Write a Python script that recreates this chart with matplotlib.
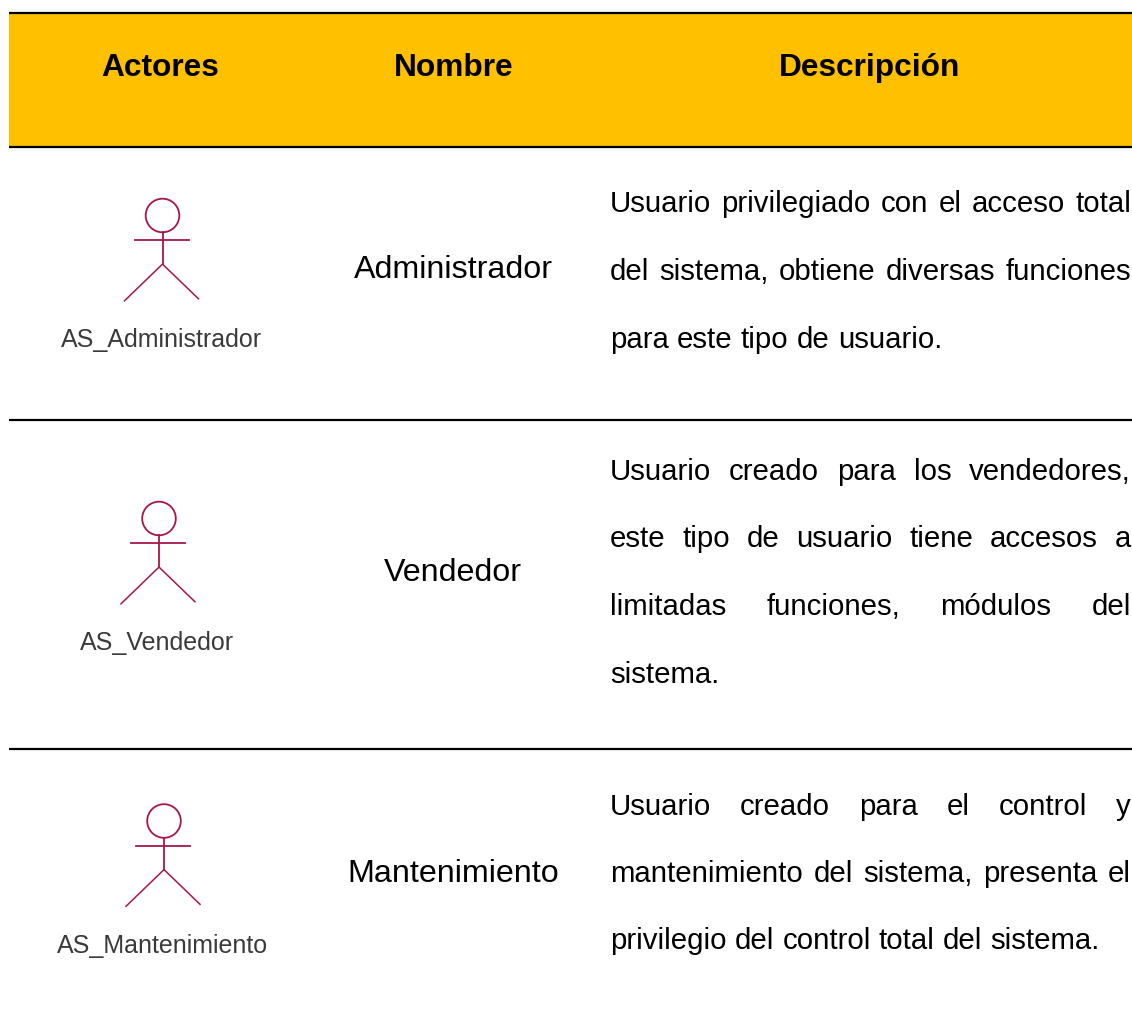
import matplotlib
matplotlib.use('Agg')
import matplotlib.pyplot as plt
from matplotlib.patches import Circle, Rectangle

plt.rcParams['font.family'] = ['Liberation Sans', 'DejaVu Sans']

headers = ['Actores', 'Nombre', 'Descripción']
nombres = ['Administrador', 'Vendedor', 'Mantenimiento']
etiquetas = ['AS_Administrador', 'AS_Vendedor', 'AS_Mantenimiento']
descripciones = [
    ['Usuario privilegiado con el acceso total',
     'del sistema, obtiene diversas funciones',
     'para este tipo de usuario.'],
    ['Usuario creado para los vendedores,',
     'este tipo de usuario tiene accesos a',
     'limitadas funciones, módulos del',
     'sistema.'],
    ['Usuario creado para el control y',
     'mantenimiento del sistema, presenta el',
     'privilegio del control total del sistema.'],
]

fig = plt.figure(figsize=(11.32, 10.16), dpi=100)
ax = fig.add_axes([0, 0, 1, 1])
ax.set_xlim(0, 1132)
ax.set_ylim(1016, 0)
ax.axis('off')

# cabecera
ax.add_patch(Rectangle((9, 13), 1123, 133, fc='#FFC000', ec='none'))
for y in [13, 146.5, 420, 749]:
    ax.plot([9, 1132], [y, y], color='black', lw=1.6, solid_capstyle='butt')

for h, x in zip(headers, [160, 453.5, 869.5]):
    ax.text(x, 76, h, ha='center', va='baseline', fontsize=22.8, fontweight='bold', color='black')

# actores (cabeza x, cabeza y, etiqueta x, etiqueta y)
color_actor = '#A5174A'
actor_pos = [(162.5, 215.5, 162, 346.5), (159, 518.5, 157, 650), (164, 821, 163, 953)]
for (cx, cy, lx, ly), etiqueta in zip(actor_pos, etiquetas):
    ax.add_patch(Circle((cx, cy), 16.8, fc='none', ec=color_actor, lw=1.3))
    ax.plot([cx - 28, cx + 26], [cy + 24.8, cy + 24.8], color=color_actor, lw=1.3)
    ax.plot([cx, cx], [cy + 16.8, cy + 48.6], color=color_actor, lw=1.3)
    ax.plot([cx - 38, cx, cx + 36], [cy + 85.3, cy + 48.6, cy + 83.3], color=color_actor, lw=1.1)
    ax.text(lx, ly, etiqueta, ha='center', va='baseline', fontsize=18, color='#3a3a3a')

for n, y in zip(nombres, [278, 581, 882]):
    ax.text(453, y, n, ha='center', va='baseline', fontsize=23.2, color='black')

# descripcion justificada
x0, x1 = 610, 1131
baselines = [[212, 280, 348], [480, 547, 615, 683], [815, 882, 949]]
fig.canvas.draw()
renderer = fig.canvas.get_renderer()
for lineas, ys in zip(descripciones, baselines):
    for i, (linea, y) in enumerate(zip(lineas, ys)):
        palabras = linea.split(' ')
        textos = [ax.text(0, y, p, ha='left', va='baseline', fontsize=21.2, color='black') for p in palabras]
        anchos = [t.get_window_extent(renderer).width for t in textos]
        if i == len(lineas) - 1:
            gap = 8.2
        else:
            gap = (x1 - x0 - sum(anchos)) / (len(palabras) - 1)
        x = x0
        for t, w in zip(textos, anchos):
            t.set_x(x)
            x += w + gap

fig.savefig('out.png', dpi=100)
